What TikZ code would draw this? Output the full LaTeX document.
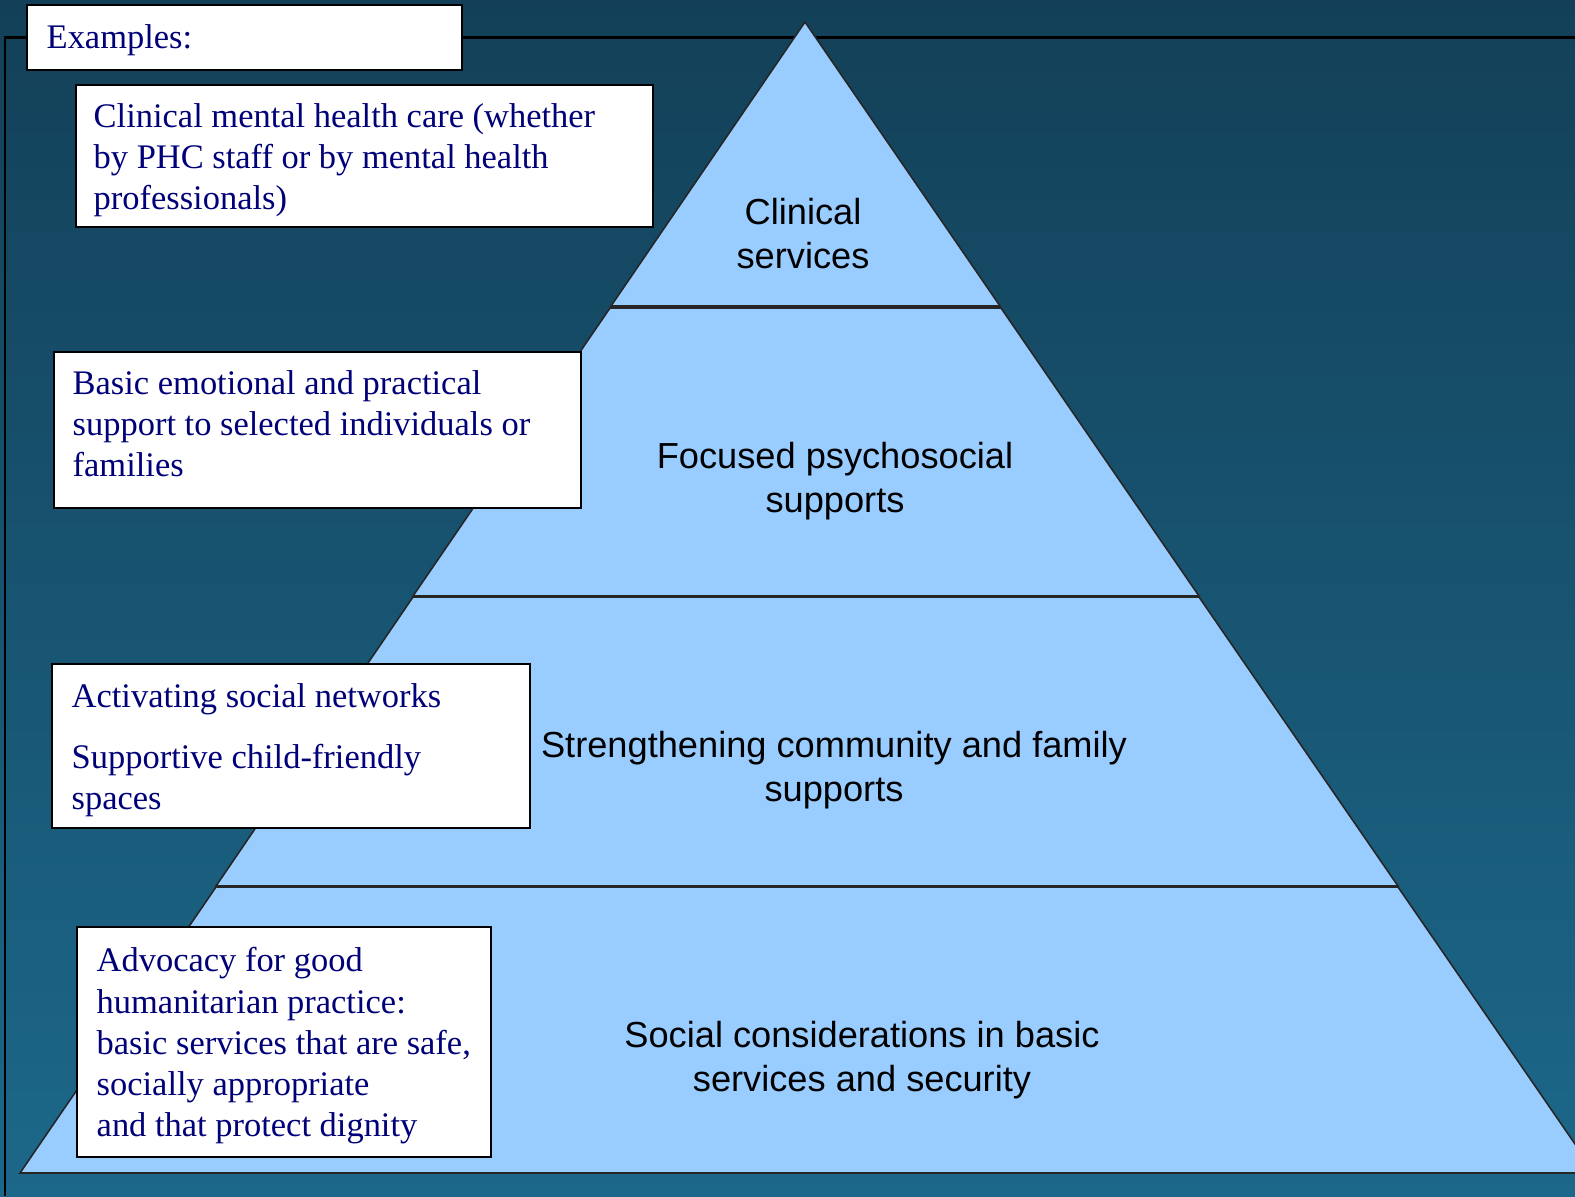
\documentclass[tikz,border=0pt]{standalone}
\usepackage{fontspec}
\setmainfont{Liberation Serif}
\newfontfamily\labelsans{Liberation Sans}
\definecolor{bgtop}{RGB}{19,64,88}
\definecolor{bgbot}{RGB}{28,104,138}
\definecolor{tier}{RGB}{153,204,255}
\definecolor{navytext}{RGB}{0,0,120}
\tikzset{
  box/.style={draw=black, line width=0.6pt, fill=white, anchor=north west, inner sep=0pt},
  boxtext/.style={anchor=north west, inner sep=0pt, align=left, text=navytext,
    font=\fontsize{9.8}{11.67}\selectfont},
  tierlabel/.style={anchor=north, inner sep=0pt, align=center, text=black,
    font=\labelsans\fontsize{10.3}{12.5}\selectfont},
  tiershape/.style={fill=tier, draw=black!85, line width=0.45pt},
  frameline/.style={draw=black, line width=0.85pt}
}
\begin{document}
\begin{tikzpicture}[x=0.01cm,y=-0.01cm]
\useasboundingbox (0,0) rectangle (1575,1196);
% background
\shade[top color=bgtop, bottom color=bgbot] (0,0) rectangle (1575,1196);
% frame
\coordinate (fr) at (1575,37);
\coordinate (fc) at (5,37);
\coordinate (fb) at (5,1196);
\draw[frameline] (fr) -- (fc) -- (fb);
% pyramid tiers
\draw[tiershape] (805,22) -- (1000,306) -- (611,306) -- cycle;
\draw[tiershape] (610,308) -- (1001,308) -- (1199,596) -- (413,596) -- cycle;
\draw[tiershape] (413,597) -- (1199,597) -- (1398,886) -- (216,886) -- cycle;
\draw[tiershape] (216,887) -- (1398,887) -- (1595,1173) -- (20,1173) -- cycle;
% tier labels
\node[tierlabel] (lclin) at (803,198) {Clinical\\services};
\node[tierlabel] (lfoc) at (835,442) {Focused psychosocial\\supports};
\node[tierlabel] (lstr) at (834,731) {Strengthening community and family\\supports};
\node[tierlabel] (lsoc) at (862,1021) {Social considerations in basic\\services and security};
% example boxes
\node[box, minimum width=435*0.01cm, minimum height=65*0.01cm] (bex) at (26,4) {};
\node[boxtext] (tex) at (46,24) {Examples:};
\node[box, minimum width=577*0.01cm, minimum height=142*0.01cm] (bclin) at (75,84) {};
\node[boxtext] (tclin) at (93,103) {Clinical mental health care (whether\\by PHC staff or by mental health\\professionals)};
\node[box, minimum width=527*0.01cm, minimum height=156*0.01cm] (bbas) at (53,351) {};
\node[boxtext] (tbas) at (72,370) {Basic emotional and practical\\support to selected individuals or\\families};
\node[box, minimum width=478*0.01cm, minimum height=164*0.01cm] (bact) at (51,663) {};
\node[boxtext] (tact) at (71,683) {Activating social networks\\[20*0.01cm]Supportive child-friendly\\spaces};
\node[box, minimum width=414*0.01cm, minimum height=230*0.01cm] (badv) at (76,926) {};
\node[boxtext] (tadv) at (96,947) {Advocacy for good\\humanitarian practice:\\basic services that are safe,\\socially appropriate\\and that protect dignity};
\end{tikzpicture}
\end{document}
